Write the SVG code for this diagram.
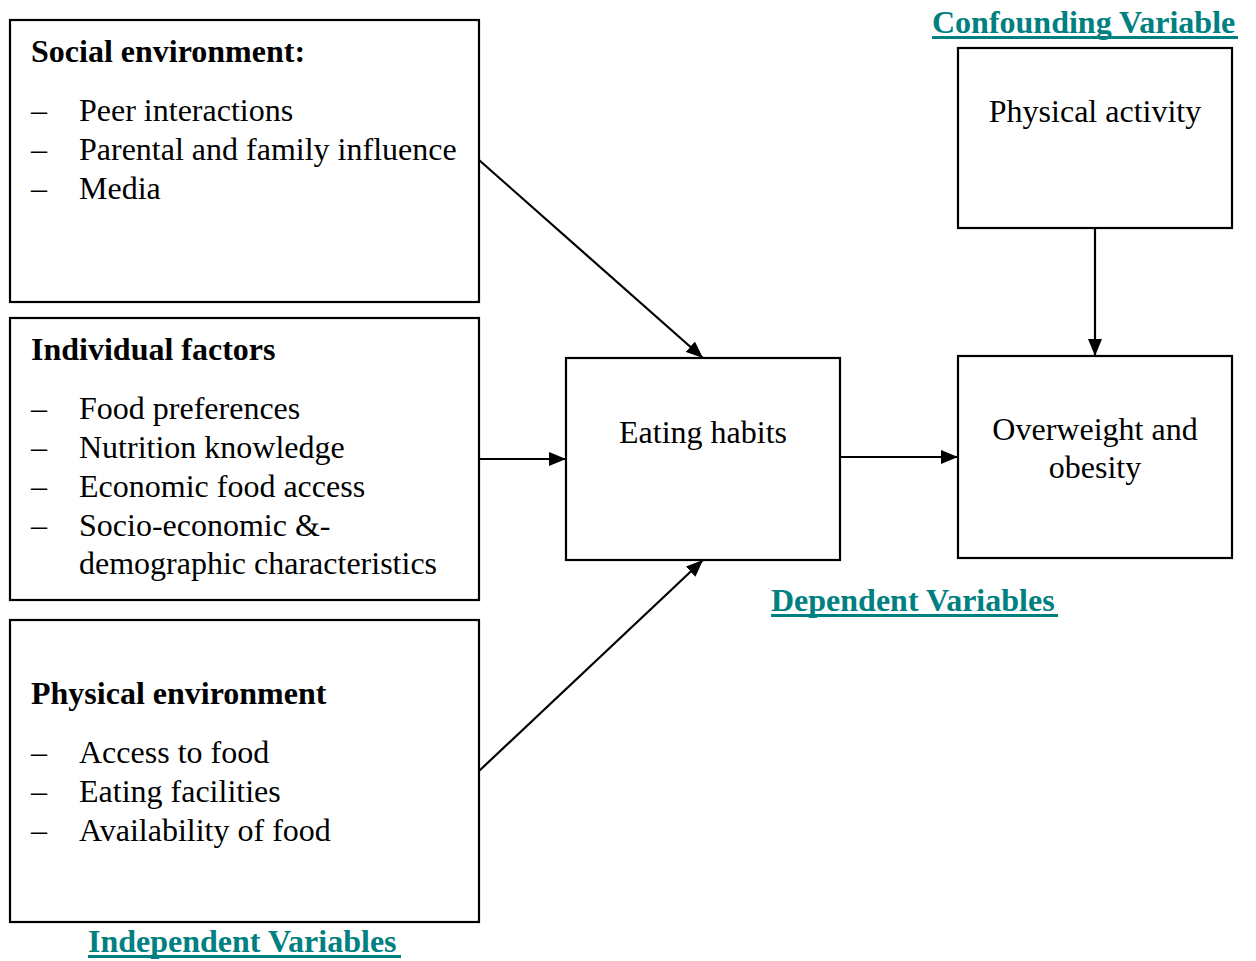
<svg xmlns="http://www.w3.org/2000/svg" width="1256" height="961" viewBox="0 0 1256 961">
<defs>
<marker id="arr" markerUnits="userSpaceOnUse" markerWidth="18" markerHeight="14" refX="17" refY="7" orient="auto">
<path d="M0,0 L17,7 L0,14 Z" fill="#000"/>
</marker>
<style>
.box{fill:#fff;stroke:#000;stroke-width:2.2}
text{font-family:"Liberation Serif","Times New Roman",serif;font-size:32px;fill:#000}
.b{font-weight:bold}
.lab{font-weight:bold;fill:#008080}
.ul{stroke:#008080;stroke-width:3}
.c{text-anchor:middle}
.con{stroke:#000;stroke-width:2.2;fill:none;marker-end:url(#arr)}
</style>
</defs>
<rect width="1256" height="961" fill="#fff"/>
<g id="social">
<rect class="box" x="10" y="20" width="469" height="282"/>
<text class="b" x="31" y="62">Social environment:</text>
<text x="31" y="121">–</text><text x="79" y="121">Peer interactions</text>
<text x="31" y="160">–</text><text x="79" y="160">Parental and family influence</text>
<text x="31" y="199">–</text><text x="79" y="199">Media</text>
</g>
<g id="individual">
<rect class="box" x="10" y="318" width="469" height="282"/>
<text class="b" x="31" y="360">Individual factors</text>
<text x="31" y="419">–</text><text x="79" y="419">Food preferences</text>
<text x="31" y="458">–</text><text x="79" y="458">Nutrition knowledge</text>
<text x="31" y="497">–</text><text x="79" y="497">Economic food access</text>
<text x="31" y="536">–</text><text x="79" y="536">Socio-economic &amp;-</text>
<text x="79" y="574">demographic characteristics</text>
</g>
<g id="physical-env">
<rect class="box" x="10" y="620" width="469" height="302"/>
<text class="b" x="31" y="704">Physical environment</text>
<text x="31" y="763">–</text><text x="79" y="763">Access to food</text>
<text x="31" y="802">–</text><text x="79" y="802">Eating facilities</text>
<text x="31" y="841">–</text><text x="79" y="841">Availability of food</text>
</g>
<g id="eating">
<rect class="box" x="566" y="358" width="274" height="202"/>
<text class="c" x="703" y="443">Eating habits</text>
</g>
<g id="activity">
<rect class="box" x="958" y="48" width="274" height="180"/>
<text class="c" x="1095" y="122">Physical activity</text>
</g>
<g id="obesity">
<rect class="box" x="958" y="356" width="274" height="202"/>
<text class="c" x="1095" y="440">Overweight and</text>
<text class="c" x="1095" y="478">obesity</text>
</g>
<g id="labels">
<text class="lab" x="932" y="33">Confounding Variable</text>
<line class="ul" x1="932" y1="37.5" x2="1238" y2="37.5"/>
<text class="lab" x="771" y="611">Dependent Variables</text>
<line class="ul" x1="771" y1="615.5" x2="1058" y2="615.5"/>
<text class="lab" x="88" y="952">Independent Variables</text>
<line class="ul" x1="88" y1="956.5" x2="401" y2="956.5"/>
</g>
<g id="connectors">
<line class="con" x1="479" y1="160" x2="703" y2="358"/>
<line class="con" x1="479" y1="459" x2="566" y2="459"/>
<line class="con" x1="479" y1="771" x2="703" y2="560"/>
<line class="con" x1="840" y1="457" x2="958" y2="457"/>
<line class="con" x1="1095" y1="228" x2="1095" y2="356"/>
</g>
</svg>
